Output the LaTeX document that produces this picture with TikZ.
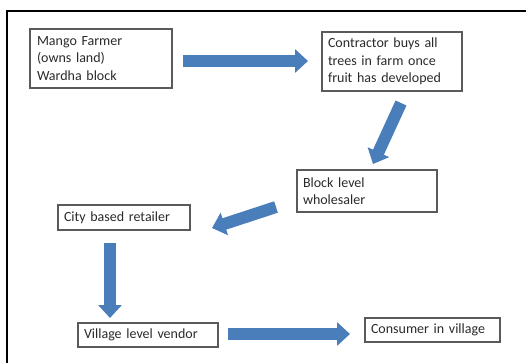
\documentclass[tikz,border=0pt]{standalone}
\usepackage{fontspec}
\setmainfont{Carlito}
\usetikzlibrary{arrows.meta}
\definecolor{arrowblue}{HTML}{4A7EBB}
\definecolor{boxgray}{HTML}{5A5A5A}
\definecolor{txt}{HTML}{2A2A2A}
\tikzset{
  box/.style={draw=boxgray, line width=1.2pt, rectangle, align=left, inner xsep=6pt,
    font=\fontsize{14}{17.5}\selectfont, text=txt},
  blockarrow/.style={draw=arrowblue, line width=12pt,
    -{Triangle[width=23pt,length=13pt]}}
}
\begin{document}
\begin{tikzpicture}[x=1pt,y=-1pt]
\useasboundingbox (0,0) rectangle (526,362);
\draw[line width=2.5pt] (7,370) -- (7,11) -- (540,11);
\node[box, minimum width=142pt, minimum height=59pt, text width=128pt] (farmer) at (101,58.5) {Mango Farmer\\(owns land)\\Wardha block};
\node[box, minimum width=140pt, minimum height=59pt, text width=128pt] (contractor) at (392,61.5) {Contractor buys all\\trees in farm once\\fruit has developed};
\node[box, minimum width=140pt, minimum height=42pt, text width=128pt] (wholesaler) at (367,191) {Block level\\wholesaler};
\node[box, minimum width=132pt, minimum height=25pt, text width=120pt] (retailer) at (124,217.5) {City based retailer};
\node[box, minimum width=140pt, minimum height=24pt, text width=128pt] (vendor) at (148,335) {Village level vendor};
\node[box, minimum width=135pt, minimum height=24pt, text width=123pt] (consumer) at (432.5,330) {Consumer in village};
\coordinate (a1s) at (183,61); \coordinate (a1e) at (308,61);
\coordinate (a2s) at (401,103); \coordinate (a2e) at (373,164);
\coordinate (a3s) at (276,207); \coordinate (a3e) at (212,228);
\coordinate (a4s) at (110,243); \coordinate (a4e) at (110,318);
\coordinate (a5s) at (228,334); \coordinate (a5e) at (350,334);
\draw[blockarrow] (a1s) -- (a1e);
\draw[blockarrow] (a2s) -- (a2e);
\draw[blockarrow] (a3s) -- (a3e);
\draw[blockarrow] (a4s) -- (a4e);
\draw[blockarrow] (a5s) -- (a5e);
\end{tikzpicture}
\end{document}
